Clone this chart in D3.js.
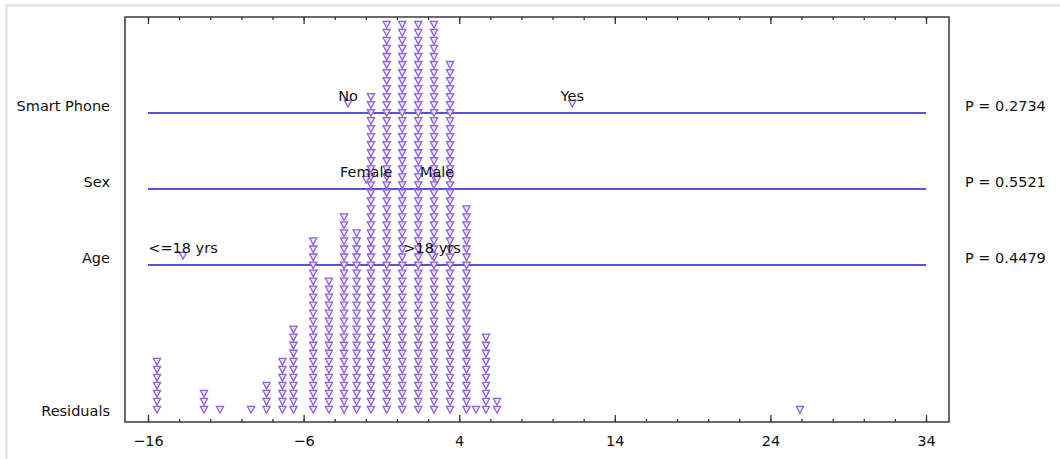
<!DOCTYPE html>
<html lang="en">
<head>
    <meta charset="utf-8">
    <title>Residual dot plot</title>
    <script src="https://d3js.org/d3.v7.min.js"></script>
    <style>
        body { margin: 0; background: #fff; }
        text { font-family: "DejaVu Sans", Verdana, sans-serif; font-size: 14.5px; fill: #111; }
    </style>
</head>
<body>
<div id="visualization"></div>
<script>
    // Residual stacks: x value of each column and number of points in it
    const residualValues = [-15.42, -12.40, -11.37, -9.38, -8.38, -7.36, -6.65, -5.38, -4.37, -3.40, -2.59,
        -1.67, -0.66, 0.34, 1.37, 2.38, 3.41, 4.47, 5.08, 5.72, 6.43, 25.90];
    const residualCounts = [7, 3, 1, 1, 4, 7, 11, 22, 17, 25, 23, 40, 49, 49, 49, 49, 44, 26, 1, 10, 2, 1];

    // Factors, their levels, level means of the residuals and p-values
    const factors = ["Smart Phone", "Sex", "Age"];
    const levelNames = [["No", "Yes"], ["Female", "Male"], ["<=18 yrs", ">18 yrs"]];
    const levelMeans = [[-3.14, 11.27], [-1.98, 2.58], [-13.75, 2.26]];
    const pValues = ["P = 0.2734", "P = 0.5521", "P = 0.4479"];

    const xTicks = [-16, -6, 4, 14, 24, 34];

    const W = 1060, H = 459;
    const box = {left: 125, right: 949, top: 17, bottom: 422};

    const svg = d3.select("#visualization")
        .append("svg")
        .attr("width", W)
        .attr("height", H);

    // window frame
    svg.append("path")
        .attr("d", `M6.5,${H} V5.5 H${W}`)
        .attr("fill", "none")
        .attr("stroke", "#e2e0cc")
        .attr("stroke-width", 2);

    const x = d3.scaleLinear().domain([-16, 34]).range([148, 926]);
    // stack index -> pixel
    const yStack = d3.scaleLinear().domain([0, 48]).range([410, 25]);
    // factor rows
    const yRow = d3.scaleLinear().domain([0, 1]).range([113, 189]);

    const tri = "M-3.6,-3.6 L3.6,-3.6 L0,3.2 Z";

    svg.append("defs").append("clipPath").attr("id", "plotclip")
        .append("rect")
        .attr("x", box.left).attr("y", box.top + 2)
        .attr("width", box.right - box.left).attr("height", box.bottom - box.top - 2);

    // axes: minor + major ticks, bottom and top, pointing inward
    svg.append("g")
        .attr("transform", `translate(0,${box.bottom})`)
        .call(d3.axisBottom(x).tickValues(d3.range(-16, 35, 2)).tickSize(-3).tickFormat(""))
        .call(g => g.select(".domain").remove());
    svg.append("g")
        .attr("transform", `translate(0,${box.bottom})`)
        .call(d3.axisBottom(x).tickValues(xTicks).tickSize(-7).tickPadding(14).tickFormat(d3.format("d")))
        .call(g => g.select(".domain").remove())
        .call(g => g.selectAll("text").style("font-size", "14.5px").attr("fill", "#111"));
    svg.append("g")
        .attr("transform", `translate(0,${box.top})`)
        .call(d3.axisTop(x).tickValues(d3.range(-16, 35, 2)).tickSize(-3).tickFormat(""))
        .call(g => g.select(".domain").remove());
    svg.append("g")
        .attr("transform", `translate(0,${box.top})`)
        .call(d3.axisTop(x).tickValues(xTicks).tickSize(-7).tickFormat(""))
        .call(g => g.select(".domain").remove());
    svg.selectAll(".tick line").attr("stroke", "#333").attr("stroke-width", 1.3);

    // factor lines
    svg.selectAll(".factorLine")
        .data(factors)
        .join("line")
        .attr("x1", x(-16)).attr("x2", x(34))
        .attr("y1", (d, i) => yRow(i)).attr("y2", (d, i) => yRow(i))
        .attr("stroke", "#1c1cc8")
        .attr("stroke-width", 1.4);

    // residual stacks
    const points = [];
    residualValues.forEach((v, i) => {
        for (let k = 0; k < residualCounts[i]; k++) points.push({v: v, k: k});
    });
    svg.append("g")
        .attr("clip-path", "url(#plotclip)")
        .selectAll("path")
        .data(points)
        .join("path")
        .attr("d", tri)
        .attr("transform", d => `translate(${x(d.v)},${yStack(d.k)})`)
        .attr("fill", "#efe6ff")
        .attr("stroke", "#8f5fdc")
        .attr("stroke-width", 1.3);

    // level means on each factor line
    factors.forEach((f, i) => {
        const g = svg.append("g");
        const lv = levelNames[i].map((n, j) => ({name: n, m: levelMeans[i][j]}));
        g.selectAll("path")
            .data(lv)
            .join("path")
            .attr("d", tri)
            .attr("transform", d => `translate(${x(d.m)},${yRow(i) - 9})`)
            .attr("fill", "#efe6ff")
            .attr("stroke", "#8f5fdc")
            .attr("stroke-width", 1.3);
        g.selectAll("text")
            .data(lv)
            .join("text")
            .attr("x", d => x(d.m))
            .attr("y", yRow(i) - 12)
            .attr("text-anchor", "middle")
            .text(d => d.name);
    });

    // row labels and p-values
    svg.selectAll(".rowLabel")
        .data(factors)
        .join("text")
        .attr("x", 110)
        .attr("y", (d, i) => yRow(i) - 2)
        .attr("text-anchor", "end")
        .text(d => d);
    svg.append("text")
        .attr("x", 110)
        .attr("y", 416)
        .attr("text-anchor", "end")
        .text("Residuals");
    svg.selectAll(".pval")
        .data(pValues)
        .join("text")
        .attr("x", 965)
        .attr("y", (d, i) => yRow(i) - 2)
        .text(d => d);

    // plot frame
    svg.append("rect")
        .attr("x", box.left).attr("y", box.top)
        .attr("width", box.right - box.left)
        .attr("height", box.bottom - box.top)
        .attr("fill", "none")
        .attr("stroke", "#3a3a3a")
        .attr("stroke-width", 1.5);
</script>
</body>
</html>
